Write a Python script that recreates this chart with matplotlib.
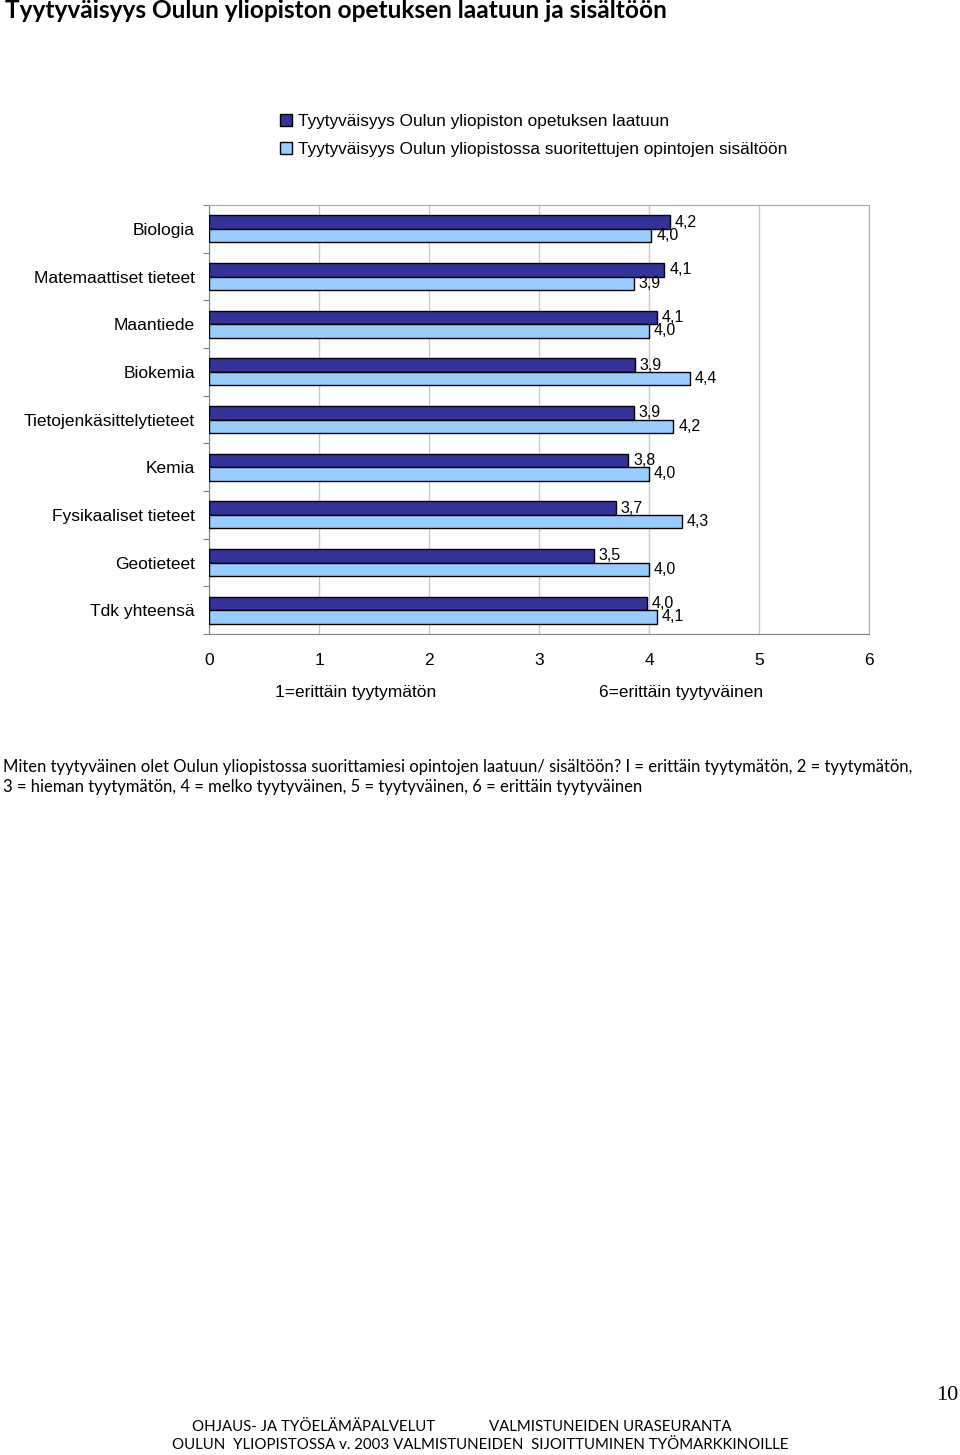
import matplotlib.pyplot as plt
import numpy as np

categories = ['Biologia', 'Matemaattiset tieteet', 'Maantiede', 'Biokemia',
              'Tietojenkäsittelytieteet', 'Kemia', 'Fysikaaliset tieteet',
              'Geotieteet', 'Tdk yhteensä']
laatu = [4.19, 4.14, 4.07, 3.87, 3.86, 3.81, 3.70, 3.50, 3.98]
sisalto = [4.02, 3.86, 4.00, 4.37, 4.22, 4.00, 4.30, 4.00, 4.07]
series_names = ['Tyytyväisyys Oulun yliopiston opetuksen laatuun',
                'Tyytyväisyys Oulun yliopistossa suoritettujen opintojen sisältöön']
x_ticks = [0, 1, 2, 3, 4, 5, 6]

dark = '#333399'
light = '#99ccff'
arial = 'Liberation Sans'
gill = 'Lato'

fig = plt.figure(figsize=(9.6, 14.55), dpi=100)
W, H = 960, 1455
ax = fig.add_axes([209 / W, 1 - 634 / H, 660 / W, 429 / H])

y = np.arange(len(categories))
h = 0.28
b1 = ax.barh(y - h / 2, laatu, height=h, color=dark, edgecolor='black', lw=1, zorder=3)
b2 = ax.barh(y + h / 2, sisalto, height=h, color=light, edgecolor='black', lw=1, zorder=3)

# data labels at bar ends
for yy, v in zip(y, laatu):
    ax.text(v + 0.045, yy - h / 2, f'{v:.1f}'.replace('.', ','), va='center', ha='left',
            fontsize=11.5, family=arial, zorder=4)
for yy, v in zip(y, sisalto):
    ax.text(v + 0.045, yy + h / 2, f'{v:.1f}'.replace('.', ','), va='center', ha='left',
            fontsize=11.5, family=arial, zorder=4)

ax.set_xlim(0, 6)
ax.set_ylim(len(categories) - 0.5, -0.5)
ax.set_xticks(x_ticks)
ax.set_xticklabels([str(t) for t in x_ticks], fontsize=12.5, family=arial)
ax.tick_params(axis='x', length=0, pad=14)

ax.set_yticks(np.arange(-0.5, len(categories)), labels=[''] * (len(categories) + 1))
ax.set_yticks(y, labels=categories, minor=True)
ax.tick_params(axis='y', which='major', length=4, color='#808080')
ax.tick_params(axis='y', which='minor', length=0, pad=10, labelsize=12.5)
for lbl in ax.get_yticklabels(minor=True):
    lbl.set_family(arial)

ax.grid(axis='x', color='#c8c8c8', lw=1, zorder=0)
for s in ['top', 'right']:
    ax.spines[s].set_color('#a8a8a8')
for s in ['left', 'bottom']:
    ax.spines[s].set_color('#808080')

fig.legend([b1, b2], series_names, loc='upper left', bbox_to_anchor=(264 / W, 1 - 98 / H),
           frameon=False, handlelength=0.7, handleheight=0.7, handletextpad=0.35,
           labelspacing=0.8, prop={'family': arial, 'size': 12.4})

fig.text(356 / W, 1 - 692 / H, '1=erittäin tyytymätön', ha='center', va='center',
         fontsize=12.5, family=arial)
fig.text(681 / W, 1 - 692 / H, '6=erittäin tyytyväinen', ha='center', va='center',
         fontsize=12.5, family=arial)

fig.text(5 / W, 1 - 11 / H, 'Tyytyväisyys Oulun yliopiston opetuksen laatuun ja sisältöön',
         ha='left', va='center', fontsize=17.6, fontweight='bold', family=gill)

fig.text(3 / W, 1 - 767 / H,
         'Miten tyytyväinen olet Oulun yliopistossa suorittamiesi opintojen laatuun/ sisältöön? '
         'I = erittäin tyytymätön, 2 = tyytymätön,',
         ha='left', va='center', fontsize=11.95, family=gill)
fig.text(3 / W, 1 - 787 / H,
         '3 = hieman tyytymätön, 4 = melko tyytyväinen, 5 = tyytyväinen, 6 = erittäin tyytyväinen',
         ha='left', va='center', fontsize=11.95, family=gill)

fig.text(958 / W, 1 - 1396 / H, '10', ha='right', va='center', fontsize=16,
         family='Liberation Serif')
fig.text(192 / W, 1 - 1427 / H, 'OHJAUS- JA TYÖELÄMÄPALVELUT', ha='left', va='center',
         fontsize=10.8, family=gill)
fig.text(489 / W, 1 - 1427 / H, 'VALMISTUNEIDEN URASEURANTA', ha='left', va='center',
         fontsize=10.8, family=gill)
fig.text(172 / W, 1 - 1445 / H,
         'OULUN  YLIOPISTOSSA v. 2003 VALMISTUNEIDEN  SIJOITTUMINEN TYÖMARKKINOILLE',
         ha='left', va='center', fontsize=10.8, family=gill)

fig.savefig('out.png', dpi=100)
